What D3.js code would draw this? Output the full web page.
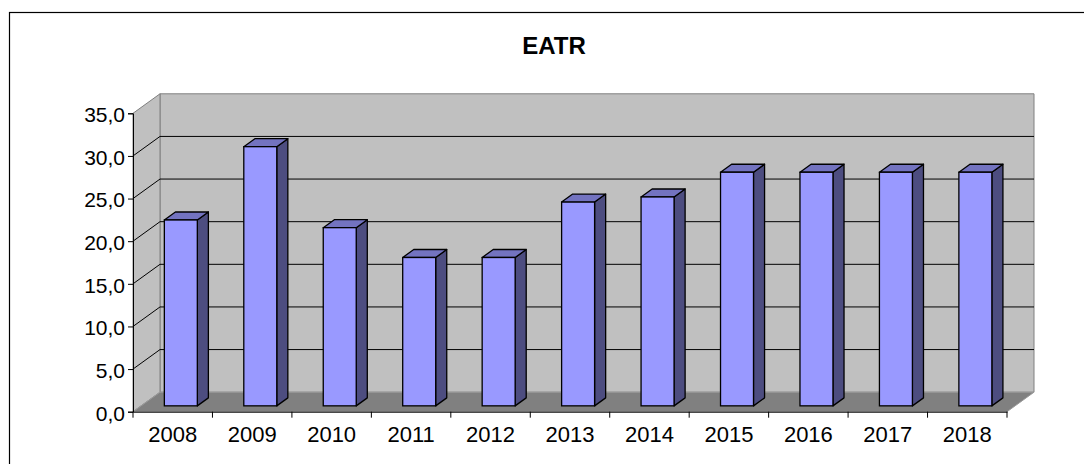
<!DOCTYPE html>
<html>
<head>
<meta charset="utf-8">
<script src="https://cdn.jsdelivr.net/npm/d3@7"></script>
<style>
  html, body { margin: 0; padding: 0; background: #fff; }
  svg { display: block; }
  text { font-family: "Liberation Sans", Arial, sans-serif; }
</style>
</head>
<body>
<svg id="chart" width="1084" height="464"></svg>
<script>
const categories = ["2008","2009","2010","2011","2012","2013","2014","2015","2016","2017","2018"];
const values = [21.8, 30.4, 20.9, 17.4, 17.4, 23.9, 24.5, 27.4, 27.4, 27.4, 27.4];
const yTicks = [0, 5, 10, 15, 20, 25, 30, 35];
const title = "EATR";

const svg = d3.select("#chart");

// outer frame
svg.append("rect").attr("x", 9.5).attr("y", 12.5).attr("width", 1090).attr("height", 470)
  .attr("fill", "#fff").attr("stroke", "#000").attr("stroke-width", 1.2);

const x0 = 133, x1 = 1007, yTop = 113.3, yBot = 411.7;
const DX = 27, DY = -19.5;

const x = d3.scaleBand().domain(categories).range([x0, x1]).padding(0);
const y = d3.scaleLinear().domain([0, 35]).range([yBot, yTop]);

const g = svg.append("g");
const pts = a => a.map(p=>p.join(",")).join(" ");

// back wall
g.append("polygon")
  .attr("points", pts([[x0+DX, y(35)+DY],[x1+DX, y(35)+DY],[x1+DX, y(0)+DY],[x0+DX, y(0)+DY]]))
  .attr("fill", "#c0c0c0").attr("stroke", "#808080").attr("stroke-width", 1);
// side wall
g.append("polygon")
  .attr("points", pts([[x0, y(35)],[x0+DX, y(35)+DY],[x0+DX, y(0)+DY],[x0, y(0)]]))
  .attr("fill", "#c0c0c0").attr("stroke", "#808080").attr("stroke-width", 1);
// floor
g.append("polygon")
  .attr("points", pts([[x0, y(0)],[x0+DX, y(0)+DY],[x1+DX, y(0)+DY],[x1, y(0)]]))
  .attr("fill", "#808080").attr("stroke", "#9a9a9a").attr("stroke-width", 1);

// gridlines
const grid = yTicks.filter(t => t > 0 && t < 35);
g.selectAll("line.gback").data(grid).enter().append("line")
  .attr("x1", x0+DX).attr("x2", x1+DX)
  .attr("y1", d => y(d)+DY).attr("y2", d => y(d)+DY)
  .attr("stroke", "#000").attr("stroke-width", 1);
g.selectAll("line.gside").data(grid).enter().append("line")
  .attr("x1", x0).attr("x2", x0+DX)
  .attr("y1", d => y(d)).attr("y2", d => y(d)+DY)
  .attr("stroke", "#000").attr("stroke-width", 1);

// bars
const fF = 0.3, fB = 0.71;
const bw = x.bandwidth() * 0.415;
const bars = g.selectAll("g.bar").data(categories.map((c,i)=>({c, v: values[i]}))).enter().append("g");
bars.each(function(d){
  const gg = d3.select(this);
  const cx = x(d.c) + x.bandwidth()/2 + DX*fF;
  const l = cx - bw/2, r = cx + bw/2;
  const b = y(0) + DY*fF, t = y(d.v) + DY*fF;
  const ddx = DX*(fB-fF), ddy = DY*(fB-fF);
  gg.append("polygon").attr("points", pts([[r,t],[r+ddx,t+ddy],[r+ddx,b+ddy],[r,b]]))
    .attr("fill", "#4d4d80").attr("stroke", "#000").attr("stroke-width", 1.3).attr("stroke-linejoin","round");
  gg.append("polygon").attr("points", pts([[l,t],[l+ddx,t+ddy],[r+ddx,t+ddy],[r,t]]))
    .attr("fill", "#7373c0").attr("stroke", "#000").attr("stroke-width", 1.3).attr("stroke-linejoin","round");
  gg.append("rect").attr("x", l).attr("y", t).attr("width", bw).attr("height", b - t)
    .attr("fill", "#9999ff").attr("stroke", "#000").attr("stroke-width", 1.3);
});

// y axis
const yAxis = d3.axisLeft(y).tickValues(yTicks).tickSize(5).tickPadding(3)
  .tickFormat(d => d3.format(".1f")(d).replace(".", ","));
const ya = svg.append("g").attr("transform", `translate(${x0},0)`).call(yAxis);
ya.select(".domain").attr("stroke", "#000");
ya.selectAll(".tick line").attr("stroke", "#000");
ya.selectAll(".tick text").attr("font-size", 21).attr("fill", "#000")
  .attr("font-family", "'Liberation Sans', Arial, sans-serif").attr("dy", "0.4em");

// x axis
const xAxis = d3.axisBottom(x).tickSize(0).tickPadding(15);
const xa = svg.append("g").attr("transform", `translate(0,${yBot})`).call(xAxis);
xa.select(".domain").attr("stroke", "#000");
xa.selectAll(".tick text").attr("font-size", 22).attr("fill", "#000")
  .attr("font-family", "'Liberation Sans', Arial, sans-serif");
const bounds = categories.map(c => x(c)).concat([x1]);
xa.selectAll("line.bt").data(bounds).enter().append("line")
  .attr("x1", d => d).attr("x2", d => d).attr("y1", 0).attr("y2", 6)
  .attr("stroke", "#000");

// title
svg.append("text").attr("x", 554).attr("y", 54).attr("text-anchor", "middle")
  .attr("font-size", 24).attr("font-weight", "bold").text(title);
</script>
</body>
</html>
